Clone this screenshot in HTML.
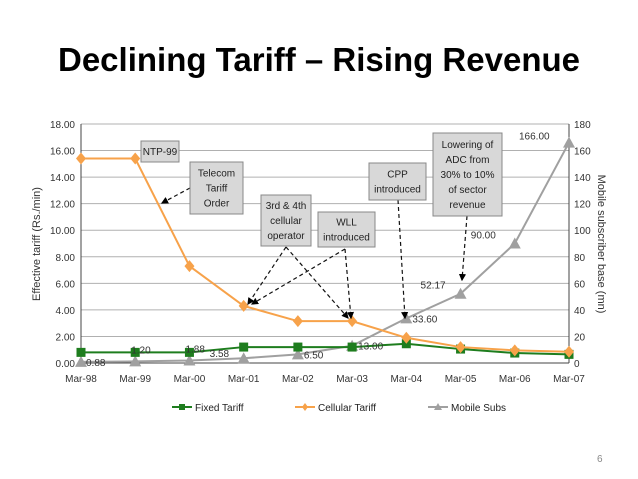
<!DOCTYPE html>
<html><head><meta charset="utf-8"><style>
html,body{margin:0;padding:0;background:#fff;}
svg{display:block;font-family:"Liberation Sans",sans-serif;}
</style></head><body>
<svg id="c" width="638" height="479" viewBox="0 0 638 479">
<text x="319" y="71" text-anchor="middle" font-size="33" font-weight="bold" fill="#000">Declining Tariff – Rising Revenue</text>
<g id="grid"></g>
<g id="marks"></g>
<g id="ann"></g>
<text x="597" y="462" font-size="10" fill="#888">6</text>
</svg>
<script>
const categories=["Mar-98","Mar-99","Mar-00","Mar-01","Mar-02","Mar-03","Mar-04","Mar-05","Mar-06","Mar-07"];
const fixedTariff=[0.8,0.8,0.8,1.2,1.2,1.2,1.45,1.05,0.75,0.65];
const cellularTariff=[15.4,15.4,7.3,4.3,3.15,3.15,1.9,1.2,0.95,0.85];
const mobileSubs=[0.88,1.20,1.88,3.58,6.50,13.00,33.60,52.17,90.00,166.00];
const mobileLabels=["0.88","1.20","1.88","3.58","6.50","13.00","33.60","52.17","90.00","166.00"];
const leftTicks=[0,2,4,6,8,10,12,14,16,18];
const rightTicks=[0,20,40,60,80,100,120,140,160,180];

const NS="http://www.w3.org/2000/svg";
const X0=81,X1=569,Y0=363,Y1=124;
const xs=i=>X0+i*(X1-X0)/(categories.length-1);
const yl=v=>Y0-v/18*(Y0-Y1);
const yr=v=>Y0-v/180*(Y0-Y1);
function mk(tag,attrs,parent,text){const e=document.createElementNS(NS,tag);for(const k in attrs)e.setAttribute(k,attrs[k]);if(text!==undefined)e.textContent=text;parent.appendChild(e);return e;}
const grid=document.getElementById('grid'),marks=document.getElementById('marks'),ann=document.getElementById('ann');

leftTicks.forEach(t=>{
  const y=yl(t);
  const l=mk('line',{x1:X0,x2:X1,y1:y,y2:y,stroke:t===0?'#444':'#b0b0b0','stroke-width':1},grid);
  
  
  const tx=mk('text',{x:X0-6,y:y+4,'text-anchor':'end','font-size':10,fill:'#333'},grid,t.toFixed(2));
  
  
});
rightTicks.forEach(t=>{
  const y=yr(t);
  const tx=mk('text',{x:X1+5,y:y+4,'font-size':10,fill:'#333'},grid,String(t));
  
  
});
mk('line',{x1:X0,x2:X0,y1:Y1,y2:Y0,stroke:'#444'},grid);
mk('line',{x1:X1,x2:X1,y1:Y1,y2:Y0,stroke:'#444'},grid);
categories.forEach((c,i)=>{
  const tx=mk('text',{x:xs(i),y:382,'text-anchor':'middle','font-size':10,fill:'#333'},grid,c);
  
  
});
const lt=mk('text',{x:0,y:0,transform:'translate(40,244) rotate(-90)','text-anchor':'middle','font-size':11,fill:'#333'},grid,'Effective tariff (Rs./min)');


const rt=mk('text',{x:0,y:0,transform:'translate(598,244) rotate(90)','text-anchor':'middle','font-size':11,fill:'#333'},grid,'Mobile subscriber base (mn)');



function series(vals,yf,color,shape,name){
  const pts=vals.map((v,i)=>xs(i)+','+yf(v)).join(' ');
  const pl=mk('polyline',{points:pts,fill:'none',stroke:color,'stroke-width':2},marks);
  
  
  vals.forEach((v,i)=>{
    const x=xs(i),y=yf(v);let m;
    if(shape==='sq')m=mk('rect',{x:x-4.5,y:y-4.5,width:9,height:9,fill:color},marks);
    else if(shape==='di')m=mk('polygon',{points:`${x},${y-6} ${x+5},${y} ${x},${y+6} ${x-5},${y}`,fill:color},marks);
    else m=mk('polygon',{points:`${x},${y-6} ${x+6},${y+5} ${x-6},${y+5}`,fill:color},marks);
    
    
  });
}
series(mobileSubs,yr,'#a0a0a0','tr','mobile-subs');
series(fixedTariff,yl,'#1e7d1e','sq','fixed-tariff');
series(cellularTariff,yl,'#f7a24a','di','cellular-tariff');

const lblOff=[[5,4],[-4,-8],[-4,-8],[-34,-1],[6,4],[6,4],[6,4],[-40,-5],[-44,-5],[-50,-3]];
mobileSubs.forEach((v,i)=>{
  const tx=mk('text',{x:xs(i)+lblOff[i][0],y:yr(v)+lblOff[i][1],'font-size':10,fill:'#333'},marks,mobileLabels[i]);
  
  
});

const defs=mk('defs',{},ann);
const mrk=mk('marker',{id:'ah',markerWidth:6,markerHeight:6,refX:5,refY:3,orient:'auto'},defs);
mk('path',{d:'M0,0 L6,3 L0,6 z',fill:'#000'},mrk);
const arrows=[[190,188,162,203],[286,247,248,304],[286,247,348,318],[345,249,252,304],[345,249,351,318],[398,200,405,318],[467,216,462,280]];
arrows.forEach(a=>{
  const l=mk('line',{x1:a[0],y1:a[1],x2:a[2],y2:a[3],stroke:'#111','stroke-width':1.2,'stroke-dasharray':'4,3','marker-end':'url(#ah)'},ann);
  
  
});
const boxes=[[141,141,38,21,['NTP-99'],'ntp-99-callout'],[190,162,53,52,['Telecom','Tariff','Order'],'telecom-tariff-order-callout'],
[261,195,50,51,['3rd & 4th','cellular','operator'],'cellular-operator-callout'],[318,212,57,35,['WLL','introduced'],'wll-callout'],
[369,163,57,37,['CPP','introduced'],'cpp-callout'],[433,133,69,83,['Lowering of','ADC from','30% to 10%','of sector','revenue'],'adc-callout']];
boxes.forEach(b=>{
  const g=mk('g',{},ann);
  
  
  mk('rect',{x:b[0],y:b[1],width:b[2],height:b[3],fill:'#d8d8d8',stroke:'#888'},g);
  const n=b[4].length,lh=15,top=b[1]+b[3]/2-(n*lh)/2+11;
  b[4].forEach((t,k)=>mk('text',{x:b[0]+b[2]/2,y:top+k*lh,'text-anchor':'middle','font-size':10,fill:'#222'},g,t));
});

const leg=[[172,'#1e7d1e','sq','Fixed Tariff'],[295,'#f7a24a','di','Cellular Tariff'],[428,'#a0a0a0','tr','Mobile Subs']];
leg.forEach(L=>{
  const g=mk('g',{},ann);
  
  
  mk('line',{x1:L[0],x2:L[0]+20,y1:407,y2:407,stroke:L[1],'stroke-width':2},g);
  const cx=L[0]+10;
  if(L[2]==='sq')mk('rect',{x:cx-3,y:404,width:6,height:6,fill:L[1]},g);
  else if(L[2]==='di')mk('polygon',{points:`${cx},403 ${cx+3},407 ${cx},411 ${cx-3},407`,fill:L[1]},g);
  else mk('polygon',{points:`${cx},403 ${cx+4},410 ${cx-4},410`,fill:L[1]},g);
  mk('text',{x:L[0]+23,y:411,'font-size':10,fill:'#222'},g,L[3]);
});
</script>
</body></html>
